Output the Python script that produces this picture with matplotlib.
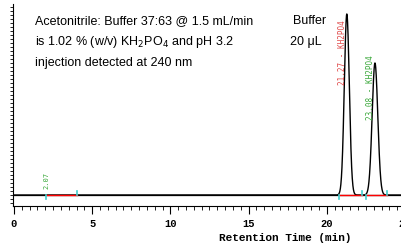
import numpy as np
from matplotlib import pyplot as plt
from matplotlib.ticker import MultipleLocator

# peaks (retention time in min, height in detector units, width)
peak_times = [21.28, 23.08]
peak_heights = [181, 132]
peak_sigmas = [0.16, 0.18]
peak_labels = ["21.27 - KH2PO4", "23.08 - KH2PO4"]
peak_colors = ["#e04848", "#3aa83a"]

# integration marks (cyan) and baselines (red)
mark_times = [2.07, 4.0, 20.78, 22.25, 22.5, 23.85]
mark_up = [False, True, False, True, False, True]
red_segments = [(2.07, 4.0), (20.78, 22.25), (22.5, 23.85)]

t = np.linspace(0, 25, 5000)
signal = np.zeros_like(t)
for tp, h, s in zip(peak_times, peak_heights, peak_sigmas):
    signal += h * np.exp(-0.5 * ((t - tp) / s) ** 2)

fig = plt.figure(figsize=(4.01, 2.45), dpi=100)
ax = fig.add_axes([13 / 401, 1 - 206 / 245, 392 / 401, 202 / 245])

ax.plot(t, signal, color='black', lw=1.0)
for a, b in red_segments:
    ax.plot([a, b], [0, 0], color='red', lw=1.0)
for tm, up in zip(mark_times, mark_up):
    if up:
        ax.plot([tm, tm], [0, 4], color='#40d0d0', lw=1.2)
    else:
        ax.plot([tm, tm], [-4, 0], color='#40d0d0', lw=1.2)

ax.text(2.07, 6, "2.07", rotation=90, color='#3aa83a', fontsize=5,
        family='DejaVu Sans Mono', ha='center', va='bottom')
ax.text(20.98, 110, peak_labels[0], rotation=90, color=peak_colors[0], fontsize=5.5,
        family='DejaVu Sans Mono', ha='center', va='bottom')
ax.text(22.8, 75, peak_labels[1], rotation=90, color=peak_colors[1], fontsize=5.5,
        family='DejaVu Sans Mono', ha='center', va='bottom')

ax.set_xlim(-0.06, 25.0)
ax.set_ylim(-11, 191)

ax.spines['top'].set_visible(False)
ax.spines['right'].set_visible(False)
ax.xaxis.set_major_locator(MultipleLocator(5))
ax.xaxis.set_minor_locator(MultipleLocator(0.5))
ax.yaxis.set_major_locator(MultipleLocator(4))
ax.set_yticklabels([])
ax.tick_params(axis='y', which='major', length=2, width=0.6, direction='out')
ax.tick_params(axis='x', which='major', length=6, width=0.8, direction='out', pad=3,
               labelsize=7.5)
ax.tick_params(axis='x', which='minor', length=3, width=0.6, direction='out')
for lab in ax.get_xticklabels():
    lab.set_family('Liberation Mono')
    lab.set_fontweight('bold')

# base line across the whole window
ax.axhline(0, color='black', lw=0.9, zorder=0)

fig.text(285 / 401, 1 - 238 / 245, "Retention Time (min)", family='Liberation Mono',
         fontweight='bold', fontsize=8, ha='center', va='center')

lines = ["Acetonitrile: Buffer 37:63 @ 1.5 mL/min",
         "is 1.02 % (w/v) KH$_2$PO$_4$ and pH 3.2",
         "injection detected at 240 nm"]
for i, s in enumerate(lines):
    fig.text(35 / 401, 1 - (21 + 21 * i) / 245, s, family='Liberation Sans',
             fontsize=9, ha='left', va='center')
fig.text(293 / 401, 1 - 21 / 245, "Buffer", family='Liberation Sans', fontsize=9,
         ha='left', va='center')
fig.text(290 / 401, 1 - 42 / 245, "20 μL", family='Liberation Sans', fontsize=9,
         ha='left', va='center')

fig.savefig('out.png', dpi=100)
